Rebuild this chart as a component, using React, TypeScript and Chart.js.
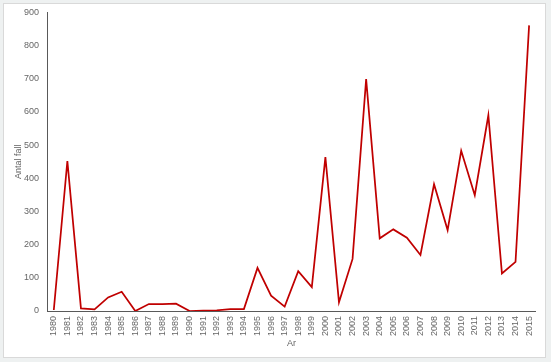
import React, { useEffect, useRef } from "react";
import { Chart, registerables } from "chart.js";

Chart.register(...registerables);

const years: string[] = [
  "1980","1981","1982","1983","1984","1985","1986","1987","1988","1989",
  "1990","1991","1992","1993","1994","1995","1996","1997","1998","1999",
  "2000","2001","2002","2003","2004","2005","2006","2007","2008","2009",
  "2010","2011","2012","2013","2014","2015",
];

const antalFall: number[] = [
  3, 452, 8, 5, 41, 58, 0, 21, 21, 22,
  0, 1, 2, 6, 6, 130, 46, 13, 120, 72,
  464, 26, 157, 699, 219, 246, 221, 169, 382, 244,
  483, 349, 590, 113, 148, 861,
];

const yTitle = "Antal fall";
const xTitle = "Ar";

export default function App() {
  const ref = useRef<HTMLCanvasElement | null>(null);

  useEffect(() => {
    document.body.style.margin = "0";
    document.body.style.background = "#eef1f1";
    const canvas = ref.current;
    if (!canvas) return;
    const font = { family: "'Liberation Sans', Arial, sans-serif", size: 9 };
    const chart = new Chart(canvas, {
      type: "line",
      data: {
        labels: years,
        datasets: [
          {
            data: antalFall,
            borderColor: "#C00000",
            backgroundColor: "#C00000",
            borderWidth: 1.75,
            pointRadius: 0,
            tension: 0,
            fill: false,
          },
        ],
      },
      options: {
        animation: false,
        responsive: false,
        devicePixelRatio: 1,
        layout: { padding: { left: 0, top: 3, right: 7, bottom: 0 } },
        plugins: { legend: { display: false }, tooltip: { enabled: false } },
        scales: {
          x: {
            offset: true,
            grid: { display: false, drawTicks: false },
            border: { display: true, color: "#595959", width: 1 },
            ticks: {
              color: "#666666",
              font,
              padding: 5,
              maxRotation: 90,
              minRotation: 90,
              autoSkip: false,
            },
            title: {
              display: true,
              text: xTitle,
              color: "#666666",
              font,
              padding: { top: 0, bottom: 8 },
            },
            afterFit: (s: any) => {
              s.height = 46;
            },
          },
          y: {
            min: 0,
            max: 900,
            grid: { display: false, drawTicks: false },
            border: { display: true, color: "#595959", width: 1 },
            ticks: {
              stepSize: 100,
              color: "#666666",
              font,
              padding: 8,
            },
            title: {
              display: true,
              text: yTitle,
              color: "#666666",
              font,
              padding: { top: 9, bottom: 0 },
            },
            afterFit: (s: any) => {
              s.width = 43;
            },
          },
        },
      },
    });
    return () => chart.destroy();
  }, []);

  return (
    <div
      style={{
        position: "absolute",
        left: 3,
        top: 3,
        width: 541,
        height: 353,
        border: "1px solid #d9d9d9",
        background: "#ffffff",
        overflow: "hidden",
      }}
    >
      <canvas
        ref={ref}
        width={541}
        height={358}
        style={{ display: "block", marginTop: -5 }}
      />
    </div>
  );
}
